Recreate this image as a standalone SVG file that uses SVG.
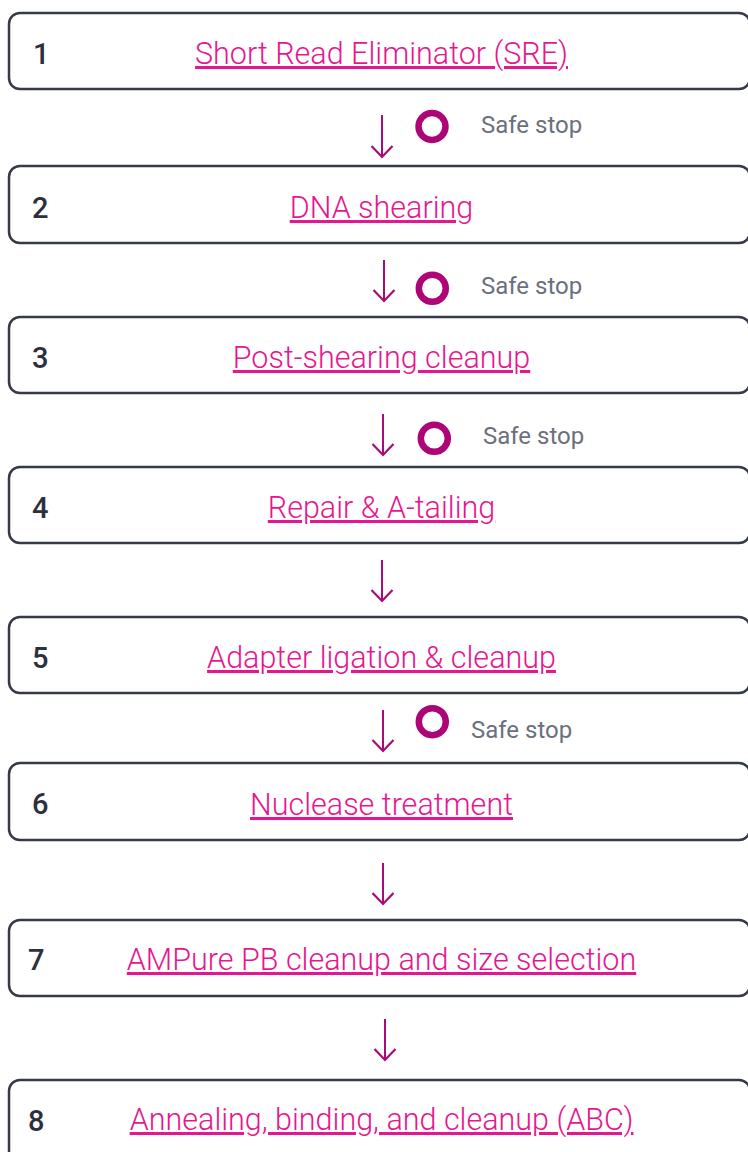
<svg xmlns="http://www.w3.org/2000/svg" width="748" height="1152" viewBox="0 0 748 1152">
<style>
.box{fill:#fff;stroke:#363946;stroke-width:2.5}
.num{font-family:Roboto,"Liberation Sans",sans-serif;font-size:29px;font-weight:500;fill:#2d303c}
.lbl{font-family:Roboto,"Liberation Sans",sans-serif;font-size:30.5px;font-weight:300;fill:#e5178f;text-anchor:middle;text-decoration:underline;text-decoration-skip-ink:none}
.conn{stroke:#a80c78;stroke-width:2;fill:none}
.stop{fill:none;stroke:#ad0577;stroke-width:6.5}
.stoptxt{font-family:Roboto,"Liberation Sans",sans-serif;font-size:24px;fill:#6b707d}
</style>
<defs>
<marker id="ah" viewBox="-15 -15 30 30" refX="0" refY="0" markerWidth="30" markerHeight="30" markerUnits="userSpaceOnUse" orient="auto" overflow="visible">
<path d="M-11,-10.5 L0,0 L-11,10.5" fill="none" stroke="#a80c78" stroke-width="2.2"/>
</marker>
</defs>
<rect width="748" height="1152" fill="#fff"/>
<g id="n1"><rect class="box" x="9" y="13" width="741" height="76" rx="11"/><text class="num" x="33" y="64">1</text><text class="lbl" x="381.5" y="64">Short Read Eliminator (SRE)</text></g>
<g id="n2"><rect class="box" x="9" y="166" width="741" height="77" rx="11"/><text class="num" x="32" y="218">2</text><text class="lbl" x="381.5" y="218">DNA shearing</text></g>
<g id="n3"><rect class="box" x="9" y="317" width="741" height="76" rx="11"/><text class="num" x="32" y="368">3</text><text class="lbl" x="381.5" y="368">Post-shearing cleanup</text></g>
<g id="n4"><rect class="box" x="9" y="467" width="741" height="76" rx="11"/><text class="num" x="32" y="518">4</text><text class="lbl" x="381.5" y="518">Repair &amp; A-tailing</text></g>
<g id="n5"><rect class="box" x="9" y="617" width="741" height="76" rx="11"/><text class="num" x="32" y="668">5</text><text class="lbl" x="381.5" y="668">Adapter ligation &amp; cleanup</text></g>
<g id="n6"><rect class="box" x="9" y="763" width="741" height="77" rx="11"/><text class="num" x="32" y="814" font-weight="400">6</text><text class="lbl" x="381.5" y="815">Nuclease treatment</text></g>
<g id="n7"><rect class="box" x="9" y="920" width="741" height="76" rx="11"/><text class="num" x="28" y="970">7</text><text class="lbl" x="381.5" y="970">AMPure PB cleanup and size selection</text></g>
<g id="n8"><rect class="box" x="9" y="1080" width="741" height="82" rx="11"/><text class="num" x="28" y="1131">8</text><text class="lbl" x="381.5" y="1130">Annealing, binding, and cleanup (ABC)</text></g>
<g id="connectors">
<line class="conn" x1="382" y1="115" x2="382" y2="157" marker-end="url(#ah)"/>
<line class="conn" x1="384" y1="260" x2="384" y2="301" marker-end="url(#ah)"/>
<line class="conn" x1="383" y1="414" x2="383" y2="455" marker-end="url(#ah)"/>
<line class="conn" x1="382" y1="560" x2="382" y2="601" marker-end="url(#ah)"/>
<line class="conn" x1="383" y1="710" x2="383" y2="751" marker-end="url(#ah)"/>
<line class="conn" x1="383" y1="863" x2="383" y2="904" marker-end="url(#ah)"/>
<line class="conn" x1="385" y1="1019" x2="385" y2="1060" marker-end="url(#ah)"/>
</g>
<g id="safestop1"><circle class="stop" cx="432" cy="126.5" r="13.5"/><text class="stoptxt" x="481" y="133">Safe stop</text></g>
<g id="safestop2"><circle class="stop" cx="432.3" cy="288.3" r="13.5"/><text class="stoptxt" x="481" y="293.5">Safe stop</text></g>
<g id="safestop3"><circle class="stop" cx="434.3" cy="438.3" r="13.5"/><text class="stoptxt" x="483" y="444">Safe stop</text></g>
<g id="safestop5"><circle class="stop" cx="432.3" cy="721.7" r="13.5"/><text class="stoptxt" x="471" y="738">Safe stop</text></g>
</svg>
